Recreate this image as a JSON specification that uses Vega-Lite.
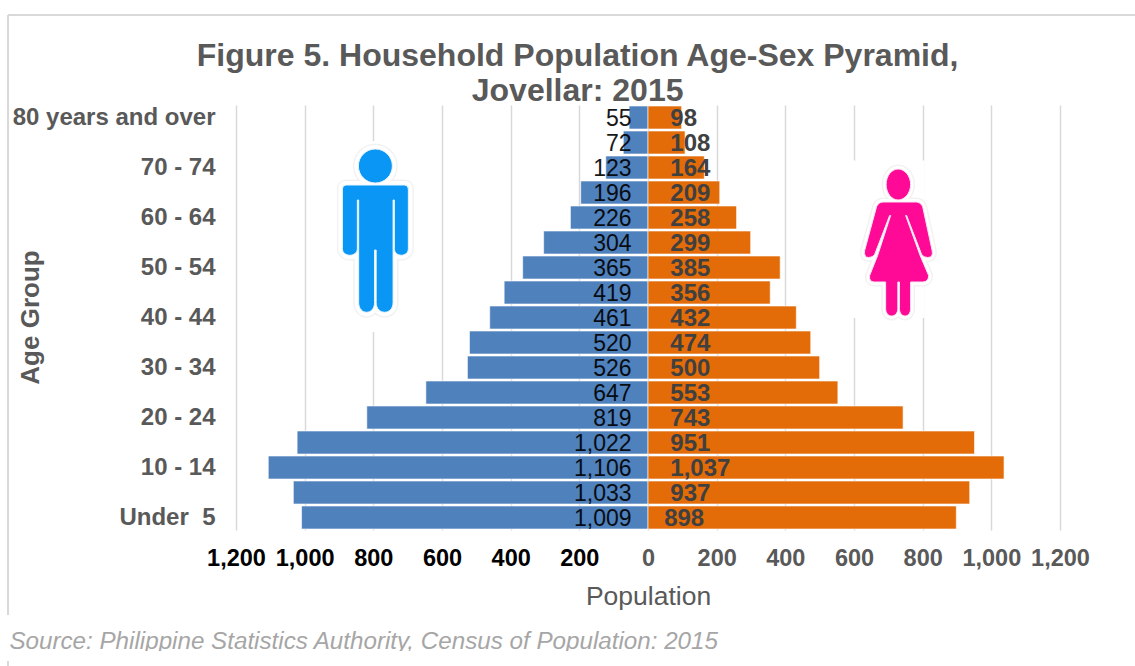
{
"$schema":"https://vega.github.io/schema/vega-lite/v6.json",
"width":824,"height":425,"autosize":"none",
"padding":{"left":236,"top":105,"right":75,"bottom":136},
"background":"#ffffff",
"config":{"view":{"stroke":null},"font":"Liberation Sans"},
"datasets":{"pop":[
{"age":"80 years and over","sex":"Male","population":-55},{"age":"80 years and over","sex":"Female","population":98},
{"age":"75 - 79","sex":"Male","population":-72},{"age":"75 - 79","sex":"Female","population":108},
{"age":"70 - 74","sex":"Male","population":-123},{"age":"70 - 74","sex":"Female","population":164},
{"age":"65 - 69","sex":"Male","population":-196},{"age":"65 - 69","sex":"Female","population":209},
{"age":"60 - 64","sex":"Male","population":-226},{"age":"60 - 64","sex":"Female","population":258},
{"age":"55 - 59","sex":"Male","population":-304},{"age":"55 - 59","sex":"Female","population":299},
{"age":"50 - 54","sex":"Male","population":-365},{"age":"50 - 54","sex":"Female","population":385},
{"age":"45 - 49","sex":"Male","population":-419},{"age":"45 - 49","sex":"Female","population":356},
{"age":"40 - 44","sex":"Male","population":-461},{"age":"40 - 44","sex":"Female","population":432},
{"age":"35 - 39","sex":"Male","population":-520},{"age":"35 - 39","sex":"Female","population":474},
{"age":"30 - 34","sex":"Male","population":-526},{"age":"30 - 34","sex":"Female","population":500},
{"age":"25 - 29","sex":"Male","population":-647},{"age":"25 - 29","sex":"Female","population":553},
{"age":"20 - 24","sex":"Male","population":-819},{"age":"20 - 24","sex":"Female","population":743},
{"age":"15 - 19","sex":"Male","population":-1022},{"age":"15 - 19","sex":"Female","population":951},
{"age":"10 - 14","sex":"Male","population":-1106},{"age":"10 - 14","sex":"Female","population":1037},
{"age":"5 - 9","sex":"Male","population":-1033},{"age":"5 - 9","sex":"Female","population":937},
{"age":"Under  5","sex":"Male","population":-1009},{"age":"Under  5","sex":"Female","population":898}
],
"man":[{"age":"55 - 59","population":-797}],
"woman":[{"age":"55 - 59","population":730}],
"frame":[{"note":"frame"}]},
"resolve":{"scale":{"y":"independent"}},
"layer":[
{"data":{"name":"pop"},
 "encoding":{"x":{"field":"population","type":"quantitative","scale":{"domain":[-1200,1200],"nice":false},"title":"Population","axis":{"values":[-1200,-1000,-800,-600,-400,-200,0,200,400,600,800,1000,1200],"labelExpr":"format(abs(datum.value),',')","grid":true,"gridColor":"#D9D9D9","gridWidth":1.5,"domain":false,"ticks":false,"labelFont":"Liberation Sans","labelFontSize":23.5,"labelFontWeight":"bold","labelColor":{"condition":{"test":"datum.value<0","value":"#000000"},"value":"#595959"},"labelPadding":16,"labelOverlap":false,"labelFlush":false,"titleFont":"Liberation Sans","titleFontSize":26.5,"titleFontWeight":"normal","titleColor":"#595959","titlePadding":14}},
  "y":{"field":"age","type":"nominal","title":"Age Group","sort":null,"scale":{"type":"band","paddingInner":0.08,"paddingOuter":0.04,"domain":["80 years and over","75 - 79","70 - 74","65 - 69","60 - 64","55 - 59","50 - 54","45 - 49","40 - 44","35 - 39","30 - 34","25 - 29","20 - 24","15 - 19","10 - 14","5 - 9","Under  5"]},"axis":{"values":["80 years and over","70 - 74","60 - 64","50 - 54","40 - 44","30 - 34","20 - 24","10 - 14","Under  5"],"labelExpr":"replace(datum.label,'  ',' \u00a0')","labelLimit":400,"domain":false,"ticks":false,"grid":false,"labelFont":"Liberation Sans","labelFontSize":24,"labelFontWeight":"bold","labelColor":"#595959","labelPadding":21,"labelOverlap":false,"titleFont":"Liberation Sans","titleFontSize":26,"titleFontWeight":"bold","titleColor":"#595959","titleX":-206,"titleY":212,"titleAlign":"center","titleBaseline":"middle"}}},
 "layer":[
 {"data":{"name":"man"},"mark":{"type":"point","filled":true,"opacity":1,"size":4,"fill":"#ffffff","strokeWidth":0,"shape":"M-35,-101.5 L47,-101.5 L47,89.5 L-35,89.5 Z"}},
 {"data":{"name":"woman"},"mark":{"type":"point","filled":true,"opacity":1,"size":4,"fill":"#ffffff","strokeWidth":0,"shape":"M-47,-82 L26,-82 L26,75.5 L-47,75.5 Z"}},
 {"mark":{"type":"bar","stroke":"#ffffff","strokeOpacity":0.6,"strokeWidth":1},"encoding":{"color":{"field":"sex","type":"nominal","legend":null,"scale":{"domain":["Male","Female"],"range":["#4F81BD","#E36C09"]}}}},
 {"data":{"name":"man"},"mark":{"type":"point","filled":false,"opacity":1,"size":4,"stroke":"#000000","strokeOpacity":0.05,"strokeWidth":11,"shape":"M-16,-76.5 C-16,-85.9 -8.4,-93.5 1,-93.5 C10.4,-93.5 18,-85.9 18,-76.5 C18,-67.1 10.4,-59.5 1,-59.5 C-8.4,-59.5 -16,-67.1 -16,-76.5 Z M-28,-57.5 L30,-57.5 Q34,-57.5 34,-53.5 L34,6 C34,15 20,15 20,6 L20,-42.5 L18.7,-42.5 L18.7,60 C18.7,73 1.8,73 1.8,60 L1.8,7.5 L0.2,7.5 L0.2,60 C0.2,73 -15.7,73 -15.7,60 L-15.7,-42.5 L-17,-42.5 L-17,6 C-17,15 -32,15 -32,6 L-32,-53.5 Q-32,-57.5 -28,-57.5 Z"}},
 {"data":{"name":"man"},"mark":{"type":"point","filled":false,"opacity":1,"size":4,"stroke":"#ffffff","strokeWidth":8,"shape":"M-16,-76.5 C-16,-85.9 -8.4,-93.5 1,-93.5 C10.4,-93.5 18,-85.9 18,-76.5 C18,-67.1 10.4,-59.5 1,-59.5 C-8.4,-59.5 -16,-67.1 -16,-76.5 Z M-28,-57.5 L30,-57.5 Q34,-57.5 34,-53.5 L34,6 C34,15 20,15 20,6 L20,-42.5 L18.7,-42.5 L18.7,60 C18.7,73 1.8,73 1.8,60 L1.8,7.5 L0.2,7.5 L0.2,60 C0.2,73 -15.7,73 -15.7,60 L-15.7,-42.5 L-17,-42.5 L-17,6 C-17,15 -32,15 -32,6 L-32,-53.5 Q-32,-57.5 -28,-57.5 Z"}},
 {"data":{"name":"man"},"mark":{"type":"point","filled":true,"opacity":1,"size":4,"fill":"#0A96F5","stroke":"#E8F4FC","strokeWidth":1,"shape":"M-16,-76.5 C-16,-85.9 -8.4,-93.5 1,-93.5 C10.4,-93.5 18,-85.9 18,-76.5 C18,-67.1 10.4,-59.5 1,-59.5 C-8.4,-59.5 -16,-67.1 -16,-76.5 Z M-28,-57.5 L30,-57.5 Q34,-57.5 34,-53.5 L34,6 C34,15 20,15 20,6 L20,-42.5 L18.7,-42.5 L18.7,60 C18.7,73 1.8,73 1.8,60 L1.8,7.5 L0.2,7.5 L0.2,60 C0.2,73 -15.7,73 -15.7,60 L-15.7,-42.5 L-17,-42.5 L-17,6 C-17,15 -32,15 -32,6 L-32,-53.5 Q-32,-57.5 -28,-57.5 Z"}},
 {"data":{"name":"woman"},"mark":{"type":"point","filled":false,"opacity":1,"size":4,"stroke":"#000000","strokeOpacity":0.05,"strokeWidth":9,"shape":"M-12.5,-58 C-12.5,-66.6 -7,-73.5 -0.5,-73.5 C6,-73.5 12,-66.6 12,-58 C12,-49.4 6,-42.5 -0.5,-42.5 C-7,-42.5 -12.5,-49.4 -12.5,-58 Z M-15,-40.5 L18,-40.5 Q22,-40.5 24,-36 L33.5,8 Q35,15 29,15 Q25,15 23,12 L8,-27 L7,-27 L21.5,13 L30,33 Q30,39.5 24,39.5 L12,39.5 L12,66 C12,76 0.8,76 0.8,66 L0.8,39.5 L-0.8,39.5 L-0.8,66 C-0.8,76 -13,76 -13,66 L-13,39.5 L-24,39.5 Q-30,39.5 -29,33 L-21,13 L-8,-27 L-9,-27 L-24,12 Q-26,15 -30,15 Q-35,15 -34,8 L-22,-36 Q-20,-40.5 -15,-40.5 Z"}},
 {"data":{"name":"woman"},"mark":{"type":"point","filled":false,"opacity":1,"size":4,"stroke":"#ffffff","strokeWidth":6,"shape":"M-12.5,-58 C-12.5,-66.6 -7,-73.5 -0.5,-73.5 C6,-73.5 12,-66.6 12,-58 C12,-49.4 6,-42.5 -0.5,-42.5 C-7,-42.5 -12.5,-49.4 -12.5,-58 Z M-15,-40.5 L18,-40.5 Q22,-40.5 24,-36 L33.5,8 Q35,15 29,15 Q25,15 23,12 L8,-27 L7,-27 L21.5,13 L30,33 Q30,39.5 24,39.5 L12,39.5 L12,66 C12,76 0.8,76 0.8,66 L0.8,39.5 L-0.8,39.5 L-0.8,66 C-0.8,76 -13,76 -13,66 L-13,39.5 L-24,39.5 Q-30,39.5 -29,33 L-21,13 L-8,-27 L-9,-27 L-24,12 Q-26,15 -30,15 Q-35,15 -34,8 L-22,-36 Q-20,-40.5 -15,-40.5 Z"}},
 {"data":{"name":"woman"},"mark":{"type":"point","filled":true,"opacity":1,"size":4,"fill":"#FF0A96","stroke":"#FBE6F2","strokeWidth":1,"shape":"M-12.5,-58 C-12.5,-66.6 -7,-73.5 -0.5,-73.5 C6,-73.5 12,-66.6 12,-58 C12,-49.4 6,-42.5 -0.5,-42.5 C-7,-42.5 -12.5,-49.4 -12.5,-58 Z M-15,-40.5 L18,-40.5 Q22,-40.5 24,-36 L33.5,8 Q35,15 29,15 Q25,15 23,12 L8,-27 L7,-27 L21.5,13 L30,33 Q30,39.5 24,39.5 L12,39.5 L12,66 C12,76 0.8,76 0.8,66 L0.8,39.5 L-0.8,39.5 L-0.8,66 C-0.8,76 -13,76 -13,66 L-13,39.5 L-24,39.5 Q-30,39.5 -29,33 L-21,13 L-8,-27 L-9,-27 L-24,12 Q-26,15 -30,15 Q-35,15 -34,8 L-22,-36 Q-20,-40.5 -15,-40.5 Z"}},
 {"transform":[{"filter":"datum.sex==='Male'"},{"calculate":"format(abs(datum.population),',')","as":"label"}],"mark":{"type":"text","align":"right","baseline":"middle","dy":1,"font":"Liberation Sans","fontSize":23,"color":"#000000","opacity":0.9},"encoding":{"x":{"datum":-48,"type":"quantitative"},"text":{"field":"label"}}},
 {"transform":[{"filter":"datum.sex==='Female' && datum.population!==898"},{"calculate":"format(datum.population,',')","as":"label"}],"mark":{"type":"text","align":"left","baseline":"middle","dy":1,"font":"Liberation Sans","fontWeight":"bold","fontSize":24,"color":"#404040"},"encoding":{"x":{"datum":65,"type":"quantitative"},"text":{"field":"label"}}},
 {"transform":[{"filter":"datum.population===898"},{"calculate":"format(datum.population,',')","as":"label"}],"mark":{"type":"text","align":"left","baseline":"middle","dy":1,"font":"Liberation Sans","fontWeight":"bold","fontSize":24,"color":"#404040"},"encoding":{"x":{"datum":47,"type":"quantitative"},"text":{"field":"label"}}}
]},
{"data":{"name":"frame"},"layer":[
 {"mark":{"type":"rule","color":"#D9D9D9","strokeWidth":2},"encoding":{"x":{"datum":-1864,"type":"quantitative"},"x2":{"datum":1420},"y":{"datum":515,"type":"quantitative","scale":{"domain":[0,425],"nice":false,"zero":false},"axis":null}}},
 {"mark":{"type":"rule","color":"#D9D9D9","strokeWidth":2},"encoding":{"x":{"datum":-1864,"type":"quantitative"},"y":{"datum":515,"type":"quantitative","axis":null},"y2":{"datum":-85}}},
 {"mark":{"type":"rule","color":"#D9D9D9","strokeWidth":2},"encoding":{"x":{"datum":-1864,"type":"quantitative"},"y":{"datum":-131,"type":"quantitative","axis":null},"y2":{"datum":-136}}},
 {"mark":{"type":"text","text":["Figure 5. Household Population Age-Sex Pyramid,","Jovellar: 2015"],"lineHeight":35,"align":"center","baseline":"alphabetic","font":"Liberation Sans","fontWeight":"bold","fontSize":32,"color":"#595959"},"encoding":{"x":{"datum":-205,"type":"quantitative"},"y":{"datum":464,"type":"quantitative","axis":null}}},
 {"mark":{"type":"text","text":"Source: Philippine Statistics Authority, Census of Population: 2015","align":"left","baseline":"alphabetic","font":"Liberation Sans","fontStyle":"italic","fontSize":24.2,"color":"#A6A6A6"},"encoding":{"x":{"datum":-1860,"type":"quantitative"},"y":{"datum":-119,"type":"quantitative","axis":null}}},
 {"mark":{"type":"rule","color":"#ffffff","strokeWidth":6},"encoding":{"x":{"datum":-1850,"type":"quantitative"},"x2":{"datum":1420},"y":{"datum":-124,"type":"quantitative","axis":null}}}
]}
]
}
